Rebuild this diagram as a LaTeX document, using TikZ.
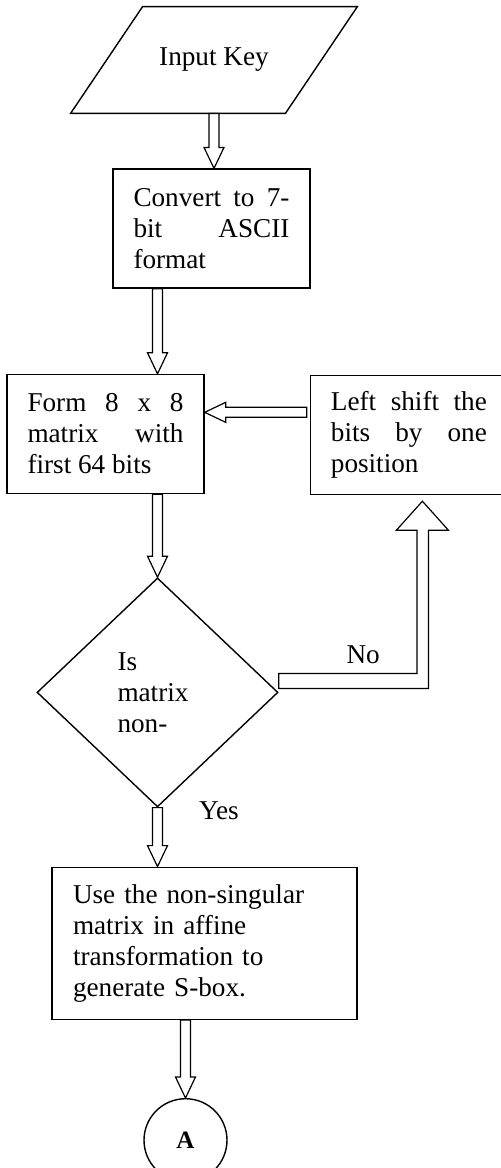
\documentclass[tikz,border=0pt]{standalone}
\usepackage{fontspec}
\setmainfont{Liberation Serif}
\usetikzlibrary{positioning, calc, shapes.geometric}
\hbadness=10000

% outlined block arrow between two points
\newcommand{\hollowarrow}[2]{%
  \draw[hollow] let \p1=($(#2)-(#1)$), \n1={veclen(\x1,\y1)}, \n2={atan2(\y1,\x1)} in
    [shift={(#1)}, rotate=\n2]
    (0,-2.5pt) -- ({\n1-10.5pt},-2.5pt) -- ({\n1-10.5pt},-5pt) -- (\n1,0)
    -- ({\n1-10.5pt},5pt) -- ({\n1-10.5pt},2.5pt) -- (0,2.5pt) -- cycle;}

\tikzset{
  every node/.style={font=\fontsize{13.6pt}{15.5pt}\selectfont},
  hollow/.style={draw, line width=0.6pt, fill=white},
  inbox/.style={minimum width=107pt, minimum height=53pt, inner sep=0pt},
  slanted/.style={draw, line width=0.7pt},
  stepbox/.style={draw, line width=0.7pt, minimum width=98.5pt, minimum height=59.5pt,
    text width=78pt, inner xsep=10.25pt, align=justify},
  widebox/.style={draw, line width=0.7pt, minimum width=152.5pt, minimum height=76pt,
    text width=131.5pt, inner xsep=10.5pt, align=left},
  decision/.style={diamond, draw, line width=0.7pt, minimum width=120.5pt, minimum height=114.5pt,
    inner sep=0pt, text width=40pt, align=left},
  connector/.style={circle, draw, line width=0.7pt, minimum size=41.5pt, inner sep=0pt,
    font=\fontsize{12.5pt}{14pt}\selectfont\bfseries},
}

\begin{document}
\begin{tikzpicture}
  \useasboundingbox (0,0) rectangle (250.5pt,-584pt);
  \node[inbox] (inp) at (107pt,-30pt) {Input Key};
  \draw[slanted] ($(inp.north west)+(18pt,0)$) -- ($(inp.north east)+(18pt,0)$)
    -- ($(inp.south east)+(-18pt,0)$) -- ($(inp.south west)+(-18pt,0)$) -- cycle;
  \node[stepbox, below=27.5pt of inp, xshift=-1.25pt] (conv) {Convert to 7-\linebreak bit ASCII\linebreak format};
  \node[stepbox, below=42.5pt of conv, xshift=-53pt] (form) {Form 8 x 8\linebreak matrix with\linebreak first 64 bits};
  \node[stepbox, right=52.5pt of form, yshift=-0.5pt] (shift) {Left shift the\linebreak bits by one\linebreak position};
  \node[decision, below=41.5pt of form, xshift=26pt] (dec) {Is\\matrix\\non-};
  \node[widebox, below=29.5pt of dec, xshift=23.5pt] (use) {Use the non-singular\\matrix in affine\\transformation to\\generate S-box.};
  \node[connector, below=39pt of use, xshift=-9.5pt] (circ) {A};

  \node (no) at ($(dec.east)+(42.25pt,19pt)$) {No};
  \node (yes) at ($(dec.south)+(30.75pt,-1.5pt)$) {Yes};

  \coordinate (a1) at (inp.south |- conv.north);
  \coordinate (a2s) at (conv.south -| dec.north);
  \coordinate (a2e) at (form.north -| dec.north);
  \coordinate (a3) at (form.south -| dec.north);
  \coordinate (a4) at (dec.south |- use.north);
  \coordinate (a5) at (use.south -| circ.north);
  \coordinate (fb) at ($(form.north east)!0.32!(form.south east)$);
  \coordinate (sb) at ($(shift.west |- fb)+(-1.5pt,0)$);

  \hollowarrow{inp.south}{a1}
  \hollowarrow{a2s}{a2e}
  \hollowarrow{a3}{dec.north}
  \hollowarrow{dec.south}{a4}
  \hollowarrow{a5}{circ.north}
  \hollowarrow{sb}{fb}

  % the No branch back up to the shift box
  \draw[hollow] let \p1=(dec.east), \p2=($(shift.south)+(6.75pt,-3pt)$) in
    (\x1,\y1+9.5pt) -- (\x2-2.75pt,\y1+9.5pt) -- (\x2-2.75pt,\y2-14.5pt) -- (\x2-13pt,\y2-14.5pt)
    -- (\x2,\y2) -- (\x2+13pt,\y2-14.5pt) -- (\x2+3pt,\y2-14.5pt) -- (\x2+3pt,\y1+2pt)
    -- (\x1,\y1+2pt) -- cycle;
\end{tikzpicture}
\end{document}
